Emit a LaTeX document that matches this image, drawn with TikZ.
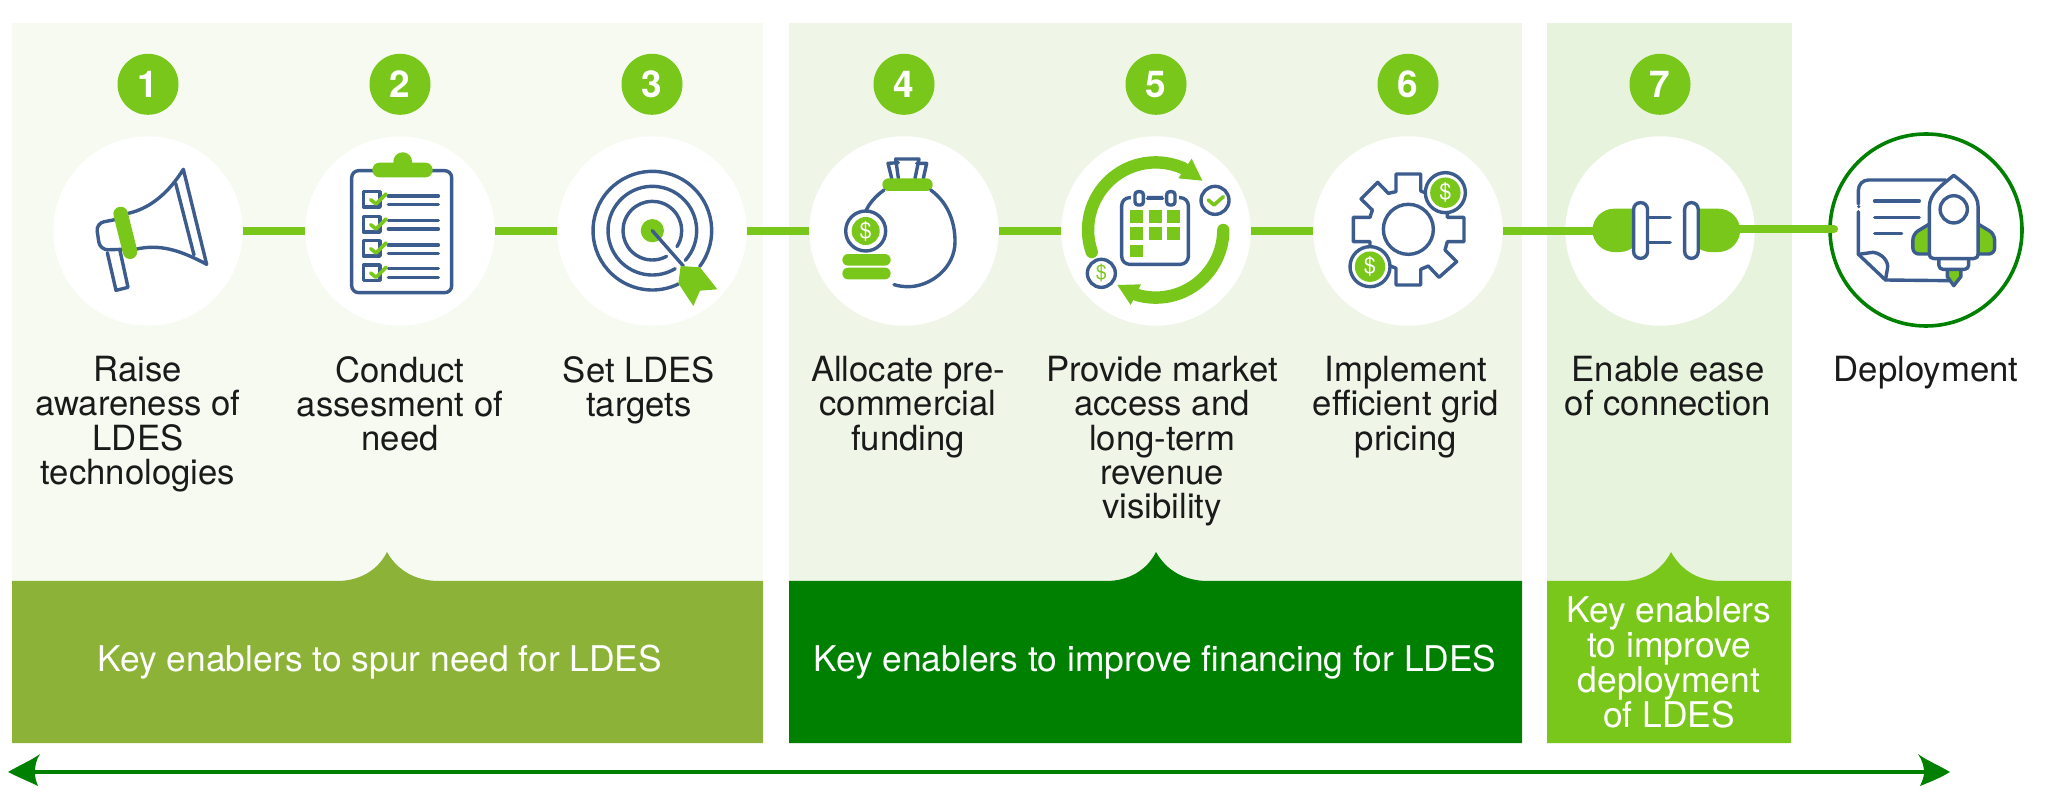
\documentclass[tikz,border=0pt]{standalone}
\usepackage{fontspec}
\setmainfont{TeX Gyre Heros}
\definecolor{pa}{HTML}{F6FAF1}
\definecolor{pb}{HTML}{EFF6E8}
\definecolor{pc}{HTML}{E7F3DD}
\definecolor{ba}{HTML}{8CB338}
\definecolor{bb}{HTML}{008000}
\definecolor{lg}{HTML}{7AC71B}
\definecolor{ink}{HTML}{3D5C8E}
\definecolor{txt}{HTML}{1A1A1A}
\tikzset{
  zm/.style n args={3}{shift={(#1,#2)},x=#3pt,y=-0.16667pt},
  ic/.style={draw=ink,line width=1.7pt,line cap=round,line join=round},
  icw/.style={ic,fill=white},
  gf/.style={fill=lg,draw=none},
  numc/.style={circle,fill=lg,inner sep=0pt,minimum size=30.5pt,text=white,font=\fontsize{18.5}{20}\selectfont\bfseries},
  whc/.style={circle,fill=white,inner sep=0pt,minimum size=94.7pt},
  lab/.style={anchor=north,align=center,inner sep=0pt,text=txt,font=\fontsize{17.35}{17.15}\selectfont},
  bant/.style={align=center,inner sep=0pt,text=white,font=\fontsize{17.7}{17.5}\selectfont},
  conn/.style={draw=lg,line width=4pt},
  dollar/.style={inner sep=0pt,font=\fontsize{#1}{#1}\selectfont},
}
\begin{document}
\begin{tikzpicture}[x=0.5pt,y=-0.5pt]
\useasboundingbox (0,0) rectangle (2070,795);
\fill[white] (0,0) rectangle (2070,795);
% panels
\fill[pa] (12,23) rectangle (763,581);
\fill[pb] (789,23) rectangle (1522,581);
\fill[pc] (1547,23) rectangle (1792,581);
% banners
\fill[ba] (12,581) -- (337,581) .. controls (360,581) and (378,570) .. (387,552) .. controls (397,570) and (415,581) .. (439,581) -- (763,581) -- (763,743) -- (12,743) -- cycle;
\fill[bb] (789,581) -- (1106,581) .. controls (1129,581) and (1147,570) .. (1156,552) .. controls (1166,570) and (1184,581) .. (1208,581) -- (1522,581) -- (1522,743) -- (789,743) -- cycle;
\fill[lg] (1547,581) -- (1622,581) .. controls (1645,581) and (1662,570) .. (1671,552) .. controls (1681,570) and (1698,581) .. (1721,581) -- (1791,581) -- (1791,743) -- (1547,743) -- cycle;
\node[bant] (ta) at (380,662) {Key enablers to spur need for LDES};
\node[bant] (tb) at (1155,662) {Key enablers to improve financing for LDES};
\node[bant] (tc) at (1669,662) {Key enablers\\to improve\\deployment\\of LDES};
% number badges
\foreach \i/\x in {1/148,2/400,3/652,4/904,5/1156,6/1408,7/1660}{
  \node[numc] (b\i) at (\x,84.3) {\i};
  \node[whc] (n\i) at (\x,231) {};
}
\node[whc,minimum size=96pt,draw=bb,line width=1.8pt] (n8) at (1926,230) {};
% connectors
\coordinate (plugL) at (1593,231);
\coordinate (plugR) at (1739,229);
\coordinate (endR) at (1834,229);
\foreach \a/\b in {1/2,2/3,3/4,4/5,5/6}{\draw[conn] (n\a.east) -- (n\b.west);}
\draw[conn] (n6.east) -- (plugL);
\draw[conn,line cap=round] (plugR) -- (endR);
% labels
\node[lab] (l1) at (138,356) {Raise\\awareness of\\LDES\\technologies};
\node[lab] (l2) at (400,356) {Conduct\\assesment of\\need};
\node[lab] (l3) at (639,356) {Set LDES\\targets};
\node[lab] (l4) at (908,356) {Allocate pre-\\commercial\\funding};
\node[lab] (l5) at (1162,356) {Provide market\\access and\\long-term\\revenue\\visibility};
\node[lab] (l6) at (1406,356) {Implement\\efficient grid\\pricing};
\node[lab] (l7) at (1668,356) {Enable ease\\of connection};
\node[lab] (l8) at (1926,356) {Deployment};
% timeline arrow
\coordinate (aL) at (30,772);
\coordinate (aR) at (1930,772);
\draw[bb,line width=2pt] (aL) -- (aR);
\fill[bb] (8,772) .. controls (20,765) and (32,760) .. (40,754) .. controls (36,760) and (35,766) .. (35,772) .. controls (35,778) and (36,781) .. (38,786) .. controls (30,782) and (20,778) .. (8,772) -- cycle;
\fill[bb] (1950,772) .. controls (1938,765) and (1926,760) .. (1918,754) .. controls (1922,760) and (1924,766) .. (1924,772) .. controls (1924,778) and (1922,781) .. (1920,786) .. controls (1930,782) and (1940,778) .. (1950,772) -- cycle;
% icon 1 megaphone
\begin{scope}[zm={0}{20}{0.16667}]
\draw[ic] (385,580) .. controls (450,565) and (505,520) .. (550,448) -- (620,733) .. controls (540,690) and (480,672) .. (410,687);
\draw[ic] (527,490) -- (582,705);
\draw[ic,rounded corners=4pt] (350,598) -- (288,610) -- (300,690) -- (368,688);
\draw[ic] (322,698) -- (348,811) -- (384,802) -- (360,692);
\draw[lg,line width=7.3pt,line cap=round] (362,582) -- (390,695);
\end{scope}
% icon 2 clipboard
\begin{scope}[zm={0}{20}{0.16667}]
\draw[ic,rounded corners=3.5pt] (1055,452) rectangle (1355,818);
\fill[lg] (1208,425) circle[radius=4.7pt];
\fill[lg,rounded corners=3.6pt] (1117,428) rectangle (1298,472);
\foreach \t/\la/\lb in {515/528/554,590/601/627,662/675/700,735/746/772}{
  \draw[ic] (1090,\t) rectangle (1140,\t+46);
  \draw[ic] (1165,\la) -- (1315,\la);
  \draw[ic] (1165,\lb) -- (1315,\lb);
  \draw[lg,line width=1.8pt,line cap=round,line join=round] (1112,\t+24) -- (1128,\t+37) -- (1158,\t+7);
}
\end{scope}
% icon 3 target
\begin{scope}[zm={520}{20}{0.16667}]
\draw[ic] ([shift={(-37:29.67pt)}]397,632) arc[start angle=-37,end angle=296,radius=29.67pt];
\draw[ic] ([shift={(-42:22.17pt)}]397,632) arc[start angle=-42,end angle=301,radius=22.17pt];
\draw[ic] ([shift={(-33:14.67pt)}]397,632) arc[start angle=-33,end angle=299,radius=14.67pt];
\fill[lg] (397,632) circle[radius=5.8pt];
\draw[ic] (397,632) -- (490,738);
\fill[lg] (482,738) -- (540,742) -- (592,808) -- (540,812) -- (520,858) -- (475,790) -- cycle;
\end{scope}
% icon 4 money bag
\begin{scope}[zm={520}{20}{0.16667}]
\draw[ic] (1115,475) -- (1104,430) -- (1135,428);
\draw[ic] (1190,430) -- (1220,430) -- (1210,475);
\draw[ic] (1135,475) -- (1127,417) -- (1197,417) -- (1185,475);
\fill[lg,rounded corners=3.1pt] (1087,475) rectangle (1238,513);
\draw[ic] (1092,510) .. controls (1065,530) and (1048,550) .. (1038,572);
\draw[ic] (1232,510) .. controls (1280,545) and (1305,600) .. (1305,665) .. controls (1305,745) and (1230,800) .. (1165,800) .. controls (1150,800) and (1135,798) .. (1122,794);
\draw[icw] (1037,633) circle[radius=10pt];
\fill[lg] (1037,633) circle[radius=7pt];
\node[dollar=11,text=white] (d1) at (1037,633) {\$};
\fill[lg,rounded corners=2.9pt] (967,702) rectangle (1112,737);
\fill[lg,rounded corners=2.9pt] (967,743) rectangle (1112,778);
\end{scope}
% icon 5 calendar
\begin{scope}[zm={1040}{20}{0.16667}]
\draw[lg,line width=6.2pt,line cap=round] ([shift={(199:33.8pt)}]347,630) arc[start angle=199,end angle=66,radius=33.8pt];
\fill[lg] (455,416) -- (487,482) -- (415,475) -- cycle;
\draw[lg,line width=6.2pt,line cap=round] ([shift={(0:33.8pt)}]347,630) arc[start angle=0,end angle=-106,radius=33.8pt];
\fill[lg] (232,795) -- (303,793) -- (272,855) -- cycle;
\draw[ic,rounded corners=4pt] (245,533) rectangle (445,733);
\draw[white,line width=2.5pt] (272,535) -- (320,535) (370,535) -- (418,535);
\draw[ic] (322,535) -- (368,535);
\draw[icw,rounded corners=1.5pt] (285,515) rectangle (310,555);
\draw[icw,rounded corners=1.5pt] (380,515) rectangle (405,555);
\foreach \X/\Y in {270/570,327/570,382/570,270/622,327/622,382/622,270/674}{
  \fill[lg] (\X,\Y) rectangle (\X+38,\Y+38);
}
\draw[icw] (525,541) circle[radius=7pt];
\draw[lg,line width=1.8pt,line cap=round,line join=round] (505,540) -- (522,555) -- (550,530);
\draw[icw] (184,760) circle[radius=7pt];
\node[dollar=10,text=lg] (d2) at (184,760) {\$};
\end{scope}
% icon 6 gear
\begin{scope}[zm={1040}{20}{0.16667}]
\draw[icw] (1068,515) -- (1068,462) -- (1142,462) -- (1142,513) -- (1165,522) -- (1216,470) -- (1265,520) -- (1222,570) -- (1222,592) -- (1272,592) -- (1272,665) -- (1222,665) -- (1215,690) -- (1250,725) -- (1197,772) -- (1165,738) -- (1142,748) -- (1142,795) -- (1068,795) -- (1068,745) -- (1045,735) -- (990,790) -- (945,740) -- (990,690) -- (990,665) -- (940,665) -- (940,592) -- (990,592) -- (997,570) -- (963,537) -- (1013,487) -- (1045,520) -- cycle;
\draw[ic] (1105,628) circle[radius=12.5pt];
\draw[icw] (1216,518) circle[radius=10pt];
\fill[lg] (1216,518) circle[radius=7.6pt];
\node[dollar=11,text=white] (d3) at (1216,518) {\$};
\draw[icw] (990,740) circle[radius=10pt];
\fill[lg] (990,740) circle[radius=7.6pt];
\node[dollar=11,text=white] (d4) at (990,740) {\$};
\end{scope}
% icon 7 plug
\begin{scope}[zm={1540}{20}{0.169}]
\fill[lg,rounded corners=10.9pt] (300,566) -- (155,566) -- (155,696) -- (300,696) [sharp corners] -- cycle;
\fill[lg] (285,566) rectangle (300,696);
\fill[lg,rounded corners=10.9pt] (440,566) -- (592,566) -- (592,696) -- (440,696) [sharp corners] -- cycle;
\fill[lg] (440,566) rectangle (455,696);
\draw[ic] (318,593) -- (385,593) (318,668) -- (385,668);
\draw[icw,rounded corners=3.3pt] (277,548) rectangle (318,715);
\draw[icw,rounded corners=3.3pt] (428,548) rectangle (468,715);
\end{scope}
% deployment icon
\begin{scope}[zm={1540}{20}{0.169}]
\draw[ic,rounded corners=5pt] (1200,480) -- (942,480) -- (942,552);
\fill[ink] (943,560) circle[radius=0.9pt];
\draw[ic] (942,575) -- (942,703) -- (1022,780) -- (1210,782);
\draw[ic] (942,703) -- (985,697) .. controls (1012,700) and (1032,725) .. (1028,745) -- (1022,780);
\draw[ic] (990,543) -- (1122,543) (990,592) -- (1122,592) (990,641) -- (1070,641);
\draw[ic,fill=lg,rounded corners=3pt] (1152,612) -- (1103,642) -- (1103,702) -- (1152,702);
\draw[ic,fill=lg,rounded corners=3pt] (1296,612) -- (1345,642) -- (1345,702) -- (1296,702);
\draw[ic,fill=lg] (1205,750) -- (1205,770) -- (1224,797) -- (1245,770) -- (1245,750);
\draw[icw,rounded corners=2pt] (1180,716) -- (1180,748) -- (1268,748) -- (1268,716);
\draw[icw] (1152,700) -- (1152,560) .. controls (1152,520) and (1190,495) .. (1224,466) .. controls (1260,495) and (1296,520) .. (1296,560) -- (1296,700) .. controls (1296,712) and (1290,716) .. (1282,716) -- (1166,716) .. controls (1158,716) and (1152,712) .. (1152,700) -- cycle;
\draw[ic] (1224,568) circle[radius=6.8pt];
\end{scope}
\end{tikzpicture}
\end{document}
